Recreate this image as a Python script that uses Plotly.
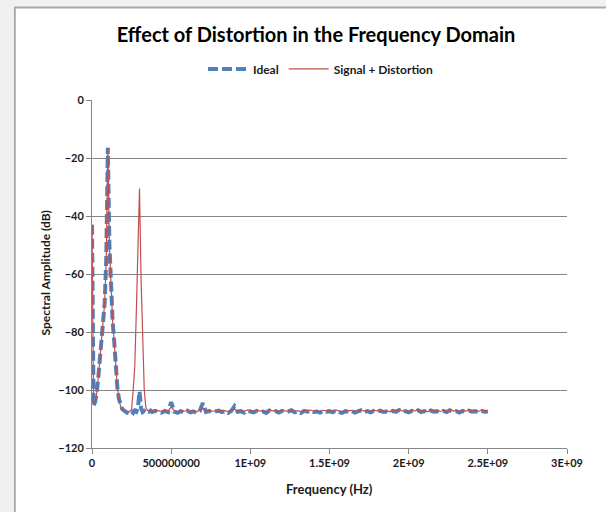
import plotly.graph_objects as go

# Frequency grid in MHz (10 MHz steps up to 400 MHz, 20 MHz steps after)
freq_mhz = [
    0, 10, 20, 30, 40, 50, 60, 70, 80, 90, 100, 110, 120, 130, 140, 150, 160, 170, 180, 190,
    200, 210, 220, 230, 240, 250, 260, 270, 280, 290, 300, 310, 320, 330, 340, 350, 360, 370, 380, 390, 400,
    420, 440, 460, 480, 500, 520, 540, 560, 580, 600,
    620, 640, 660, 680, 700, 720, 740, 760, 780, 800,
    820, 840, 860, 880, 900, 920, 940, 960, 980, 1000,
    1020, 1040, 1060, 1080, 1100, 1120, 1140, 1160, 1180, 1200,
    1220, 1240, 1260, 1280, 1300, 1320, 1340, 1360, 1380, 1400,
    1420, 1440, 1460, 1480, 1500, 1520, 1540, 1560, 1580, 1600,
    1620, 1640, 1660, 1680, 1700, 1720, 1740, 1760, 1780, 1800,
    1820, 1840, 1860, 1880, 1900, 1920, 1940, 1960, 1980, 2000,
    2020, 2040, 2060, 2080, 2100, 2120, 2140, 2160, 2180, 2200,
    2220, 2240, 2260, 2280, 2300, 2320, 2340, 2360, 2380, 2400,
    2420, 2440, 2460, 2480, 2500,
]

ideal_db = [
    -43, -105.5, -104, -101, -95.5, -89, -84, -78, -70, -55, -16.5, -50, -66, -76, -83, -92, -99, -103, -105.5, -106.5,
    -107, -107.3, -107.8, -107.2, -107.6, -107.4, -107.9, -107.1, -107.5, -106.2, -100.5, -106.3, -107.6, -107.2, -107.8, -107.3, -107.5, -107.1, -107.6, -107.4, -107.2,
    -107.4, -107.8, -107.2, -107.6, -104.2, -107.5, -107.9, -107.3, -107.6, -107.1,
    -107.7, -107.4, -107.9, -107.3, -104.5, -107.6, -107.2, -107.8, -107.4, -107.1,
    -107.6, -107.3, -107.9, -107.2, -105.6, -107.5, -107.3, -107.8, -107.1, -107.5,
    -107.7, -107.2, -107.6, -107.4, -107.9, -107.1, -107.5, -107.3, -107.8, -107.2,
    -107.6, -107.4, -107.0, -107.7, -107.3, -107.9, -107.2, -107.5, -107.1, -107.6,
    -107.4, -107.8, -107.2, -107.5, -107.3, -107.7, -107.1, -107.6, -107.9, -107.3,
    -107.5, -107.2, -107.8, -107.4, -107.0, -107.6, -107.3, -107.7, -107.2, -107.5,
    -107.1, -107.6, -107.4, -107.8, -107.2, -107.5, -106.9, -107.6, -107.3, -107.7,
    -107.2, -107.5, -107.0, -107.6, -107.3, -107.8, -107.1, -107.5, -107.3, -107.7,
    -107.2, -107.6, -107.0, -107.5, -107.3, -107.8, -107.2, -107.6, -107.1, -107.5,
    -107.3, -107.7, -107.2, -107.5, -107.4,
]

distorted_db = [
    -43, -105.2, -104, -101, -95.5, -89, -84, -78, -70, -55, -16.5, -50, -66, -76, -83, -92, -99, -103, -105.5, -106.5,
    -107, -107.2, -107.4, -107.5, -107.2, -106.8, -100, -92, -73, -50, -30.5, -62, -83, -100, -106, -107, -107.2, -107.4, -107.1, -107.3, -107.2,
    -107.1, -107.4, -107.0, -107.3, -105.8, -107.2, -107.5, -107.1, -107.4, -107.0,
    -107.3, -107.1, -107.5, -107.0, -106.2, -107.3, -107.0, -107.4, -107.2, -106.9,
    -107.3, -107.1, -107.5, -107.0, -106.6, -107.2, -107.1, -107.4, -106.9, -107.2,
    -107.4, -107.0, -107.3, -107.2, -107.5, -106.9, -107.2, -107.1, -107.4, -107.0,
    -107.3, -107.2, -106.9, -107.4, -107.1, -107.5, -107.0, -107.2, -106.9, -107.3,
    -107.2, -107.5, -107.0, -107.2, -107.1, -107.4, -106.9, -107.3, -107.5, -107.1,
    -107.2, -107.0, -107.4, -107.2, -106.9, -107.3, -107.1, -107.4, -107.0, -107.2,
    -106.9, -107.3, -107.2, -107.5, -107.0, -107.2, -106.8, -107.3, -107.1, -107.4,
    -107.0, -107.2, -106.9, -107.3, -107.1, -107.5, -106.9, -107.2, -107.1, -107.4,
    -107.0, -107.3, -106.9, -107.2, -107.1, -107.5, -107.0, -107.3, -106.9, -107.2,
    -107.1, -107.4, -107.0, -107.2, -107.2,
]

x_tick_vals = [0, 500000000, 1000000000, 1500000000, 2000000000, 2500000000, 3000000000]
x_tick_text = ["0", "500000000", "1E+09", "1.5E+09", "2E+09", "2.5E+09", "3E+09"]
y_tick_vals = [0, -20, -40, -60, -80, -100, -120]

freq_hz = [f * 1e6 for f in freq_mhz]

FONT = "Lato"
GRID = "#868686"

fig = go.Figure()
fig.add_trace(go.Scatter(
    x=freq_hz, y=ideal_db, mode="lines", name="Ideal",
    line=dict(color="#4F81BD", width=4, dash="10px,4px"),
))
fig.add_trace(go.Scatter(
    x=freq_hz, y=distorted_db, mode="lines", name="Signal + Distortion",
    line=dict(color="#C0504D", width=1.2),
))

# window frame (grey strip left and top)
shapes = [
    dict(type="rect", xref="paper", yref="paper", x0=-0.3, x1=(13 - 92) / 475, y0=-0.3, y1=1.4,
         fillcolor="#f0f0f0", line=dict(width=0), layer="above"),
    dict(type="rect", xref="paper", yref="paper", x0=-0.3, x1=1.2, y0=(448 - 8) / 347, y1=1.4,
         fillcolor="#f0f0f0", line=dict(width=0), layer="above"),
    dict(type="line", xref="paper", yref="paper", x0=(14.8 - 92) / 475, x1=(14.8 - 92) / 475,
         y0=-0.3, y1=(448 - 8.5) / 347, line=dict(color="#a8a8a8", width=2), layer="above"),
    dict(type="line", xref="paper", yref="paper", x0=(14 - 92) / 475, x1=1.2,
         y0=(448 - 8.8) / 347, y1=(448 - 8.8) / 347, line=dict(color="#a8a8a8", width=2), layer="above"),
]

fig.update_layout(
    width=606, height=512,
    margin=dict(l=92, r=39, t=100, b=64),
    paper_bgcolor="white", plot_bgcolor="white",
    font=dict(family=FONT, color="#1a1a1a"),
    title=dict(text="Effect of Distortion in the Frequency Domain", x=316 / 606, xanchor="center",
               y=1 - 35 / 512, yanchor="middle",
               font=dict(family=FONT, size=20, color="#000000", weight="bold")),
    showlegend=True,
    legend=dict(orientation="h", x=(321 - 92) / 475, xanchor="center", y=(448 - 70) / 347, yanchor="middle",
                font=dict(family=FONT, size=12, weight="bold", color="#1a1a1a"),
                bgcolor="rgba(0,0,0,0)", itemwidth=40, tracegroupgap=0),
    shapes=shapes,
    annotations=[
        dict(text="Frequency (Hz)", x=(329 - 92) / 475, y=(448 - 489) / 347, xref="paper", yref="paper",
             showarrow=False, xanchor="center", yanchor="middle",
             font=dict(family=FONT, size=13, weight="bold", color="#1a1a1a")),
        dict(text="Spectral Amplitude (dB)", x=(45 - 92) / 475, y=(448 - 274) / 347, xref="paper", yref="paper",
             showarrow=False, xanchor="center", yanchor="middle", textangle=-90,
             font=dict(family=FONT, size=12, weight="bold", color="#1a1a1a")),
    ],
)

fig.update_xaxes(
    range=[0, 3e9], tickvals=x_tick_vals, ticktext=x_tick_text,
    showgrid=False, zeroline=False, showline=True, linecolor=GRID, linewidth=1,
    ticks="outside", ticklen=5, tickcolor=GRID,
    tickfont=dict(family=FONT, size=11, weight="bold", color="#1a1a1a"),
)
fig.update_yaxes(
    range=[-120, 0], tickvals=y_tick_vals,
    showgrid=True, gridcolor=GRID, gridwidth=1, zeroline=False,
    showline=True, linecolor=GRID, linewidth=1,
    ticks="outside", ticklen=5, tickcolor=GRID,
    tickfont=dict(family=FONT, size=11, weight="bold", color="#1a1a1a"),
)

fig.write_html("out.html", config={"displayModeBar": False},
               post_script="document.body.style.margin='0';")
